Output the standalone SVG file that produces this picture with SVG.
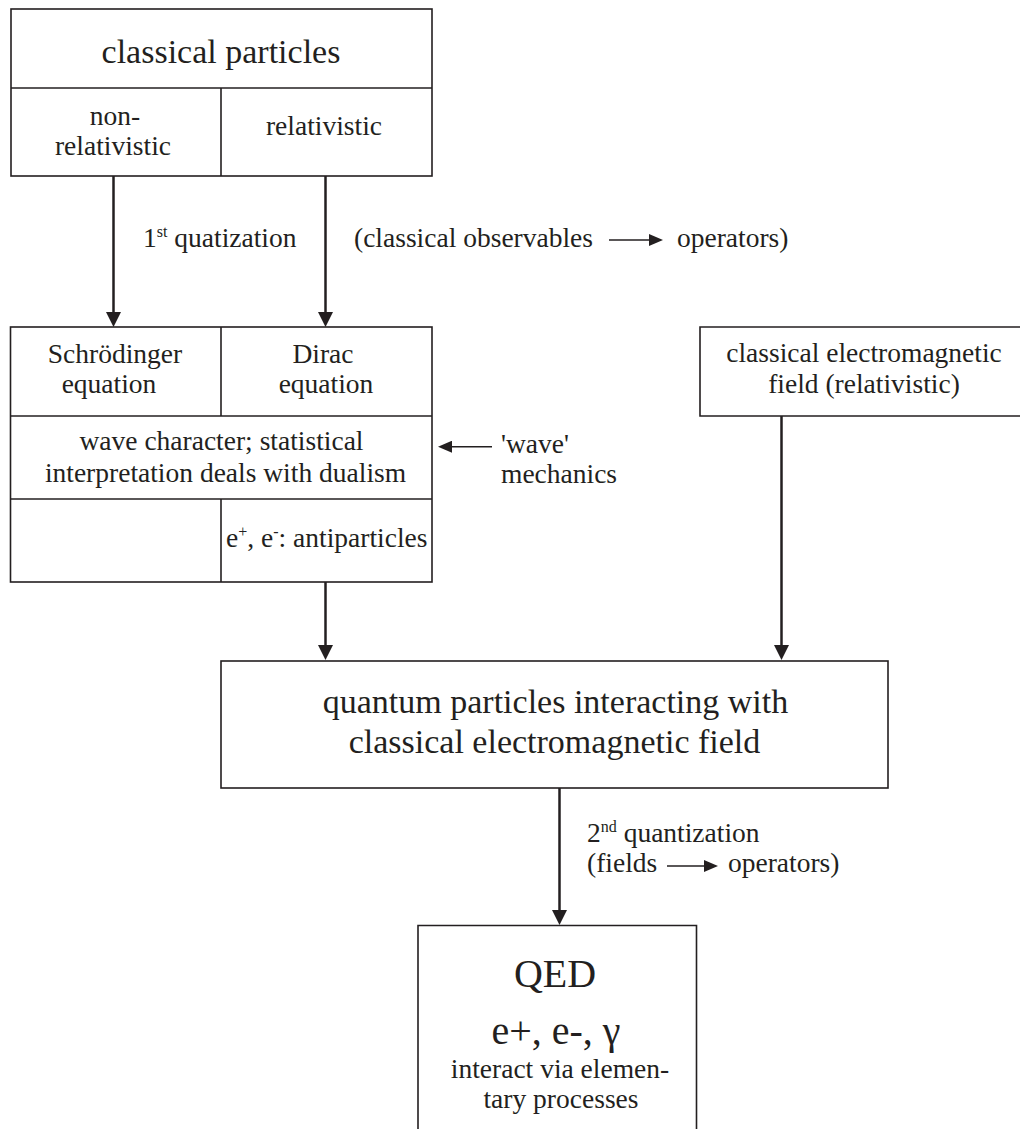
<svg xmlns="http://www.w3.org/2000/svg" width="1020" height="1129" viewBox="0 0 1020 1129">
<defs>
<style>
text{font-family:"Liberation Serif","Times New Roman",serif;fill:#231f20;font-size:27.5px}
.big{font-size:34px}
.huge{font-size:40px}
.m{text-anchor:middle}
.sup{font-size:16px}
.box{fill:none;stroke:#231f20;stroke-width:1.6}
.con{fill:none;stroke:#231f20;stroke-width:2.5}
.thin{fill:none;stroke:#231f20;stroke-width:1.4}
</style>
<marker id="ah" viewBox="0 0 15 15" refX="3" refY="7.5" markerWidth="15" markerHeight="15" markerUnits="userSpaceOnUse" orient="auto">
<path d="M0,0 L15,7.5 L0,15 z" fill="#231f20"/>
</marker>
<marker id="ahs" viewBox="0 0 14 12" refX="3" refY="6" markerWidth="14" markerHeight="12" markerUnits="userSpaceOnUse" orient="auto">
<path d="M0,0 L14,6 L0,12 z" fill="#231f20"/>
</marker>
</defs>

<g id="classical-particles">
<rect class="box" x="11" y="9" width="421" height="167"/>
<line class="box" x1="11" y1="88" x2="432" y2="88"/>
<line class="box" x1="221" y1="88" x2="221" y2="176"/>
<text class="big m" x="221" y="63">classical particles</text>
<text class="m" x="115" y="125">non-</text>
<text class="m" x="113" y="155">relativistic</text>
<text class="m" x="324" y="135">relativistic</text>
</g>

<g id="wave-equations">
<rect class="box" x="10.5" y="327" width="421.5" height="255"/>
<line class="box" x1="10.5" y1="416" x2="432" y2="416"/>
<line class="box" x1="10.5" y1="499" x2="432" y2="499"/>
<line class="box" x1="221" y1="327" x2="221" y2="416"/>
<line class="box" x1="221" y1="499" x2="221" y2="582"/>
<text class="m" x="115" y="363">Schrödinger</text>
<text class="m" x="109" y="393">equation</text>
<text class="m" x="323" y="363">Dirac</text>
<text class="m" x="326" y="393">equation</text>
<text class="m" x="221.5" y="450">wave character; statistical</text>
<text class="m" x="225.5" y="482">interpretation deals with dualism</text>
<text x="226" y="547">e<tspan class="sup" dy="-10">+</tspan><tspan dy="10">, e</tspan><tspan class="sup" dy="-10">-</tspan><tspan dy="10">: antiparticles</tspan></text>
</g>

<g id="classical-em-field">
<path class="box" d="M1022,327 H700 V416 H1022"/>
<text class="m" x="864" y="362">classical electromagnetic</text>
<text class="m" x="864" y="393">field (relativistic)</text>
</g>

<g id="quantum-particles">
<rect class="box" x="221" y="661" width="667" height="127"/>
<text class="big m" x="555.5" y="713">quantum particles interacting with</text>
<text class="big m" x="554.5" y="753">classical electromagnetic field</text>
</g>

<g id="qed">
<path class="box" d="M418,1135 V925.5 H696.5 V1135"/>
<text class="huge m" x="555" y="987">QED</text>
<text class="huge m" x="556" y="1044">e+, e-, γ</text>
<text class="m" x="560" y="1078">interact via elemen-</text>
<text class="m" x="561" y="1108">tary processes</text>
</g>

<g id="connectors">
<line class="con" x1="113.5" y1="176" x2="113.5" y2="315" marker-end="url(#ah)"/>
<line class="con" x1="325.5" y1="176" x2="325.5" y2="315" marker-end="url(#ah)"/>
<line class="con" x1="325.5" y1="582" x2="325.5" y2="648" marker-end="url(#ah)"/>
<line class="con" x1="781.5" y1="416" x2="781.5" y2="648" marker-end="url(#ah)"/>
<line class="con" x1="559.5" y1="788" x2="559.5" y2="913" marker-end="url(#ah)"/>
<line class="thin" x1="492" y1="446.7" x2="449" y2="446.7" marker-end="url(#ahs)"/>
<line class="thin" x1="609" y1="240" x2="652" y2="240" marker-end="url(#ahs)"/>
<line class="thin" x1="667" y1="866" x2="707" y2="866" marker-end="url(#ahs)"/>
</g>

<g id="labels">
<text x="143" y="247">1<tspan class="sup" dy="-10">st</tspan><tspan dy="10"> quatization</tspan></text>
<text x="354" y="247">(classical observables</text>
<text x="677" y="247">operators)</text>
<text x="501" y="453">'wave'</text>
<text x="501" y="483">mechanics</text>
<text x="587" y="842">2<tspan class="sup" dy="-10">nd</tspan><tspan dy="10"> quantization</tspan></text>
<text x="587" y="872">(fields</text>
<text x="728" y="872">operators)</text>
</g>
</svg>
